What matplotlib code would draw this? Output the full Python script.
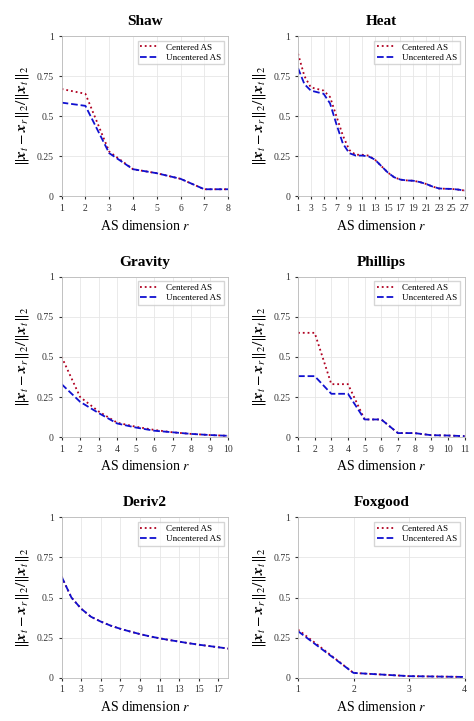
import numpy as np
import matplotlib.pyplot as plt

plt.rcParams['font.family'] = ['Liberation Serif', 'DejaVu Serif']
plt.rcParams['mathtext.fontset'] = 'stix'

titles = ["Shaw", "Heat", "Gravity", "Phillips", "Deriv2", "Foxgood"]

shaw_c = [0.67, 0.64, 0.28, 0.17, 0.145, 0.11, 0.045, 0.045]
shaw_u = [0.585, 0.565, 0.27, 0.17, 0.145, 0.11, 0.045, 0.045]

heat_c = [0.89, 0.75, 0.68, 0.67, 0.66, 0.62, 0.50, 0.38, 0.29, 0.26, 0.26, 0.255, 0.23,
          0.19, 0.15, 0.12, 0.105, 0.10, 0.098, 0.09, 0.078, 0.062, 0.05, 0.048, 0.047, 0.043, 0.037]
heat_u = [0.80, 0.70, 0.66, 0.65, 0.64, 0.58, 0.45, 0.33, 0.27, 0.255, 0.255, 0.25, 0.23,
          0.19, 0.15, 0.12, 0.105, 0.10, 0.098, 0.09, 0.078, 0.062, 0.05, 0.048, 0.047, 0.043, 0.037]

grav_c = [0.50, 0.25, 0.16, 0.09, 0.065, 0.045, 0.03, 0.02, 0.013, 0.008]
grav_u = [0.33, 0.22, 0.15, 0.085, 0.06, 0.04, 0.03, 0.02, 0.013, 0.008]

phil_c = [0.65, 0.65, 0.33, 0.33, 0.11, 0.11, 0.025, 0.025, 0.012, 0.01, 0.006]
phil_u = [0.38, 0.38, 0.27, 0.27, 0.11, 0.11, 0.025, 0.025, 0.012, 0.01, 0.006]

der_c = [0.63, 0.50, 0.43, 0.38, 0.35, 0.325, 0.305, 0.288, 0.272, 0.258, 0.246, 0.235,
         0.225, 0.215, 0.206, 0.198, 0.19, 0.182]
der_u = der_c

fox_c = [0.30, 0.03, 0.01, 0.005]
fox_u = [0.29, 0.03, 0.01, 0.005]

series = [(shaw_c, shaw_u), (heat_c, heat_u), (grav_c, grav_u),
          (phil_c, phil_u), (der_c, der_u), (fox_c, fox_u)]
xticks = [range(1, 9), range(1, 28, 2), range(1, 11), range(1, 12), range(1, 18, 2), range(1, 5)]

fig, axes = plt.subplots(3, 2, figsize=(4.74, 7.21), dpi=100)
for ax, title, (c, u), xt in zip(axes.flat, titles, series, xticks):
    r = np.arange(1, len(c) + 1)
    ax.plot(r, c, ':', color='#b00020', lw=1.3, label='Centered AS')
    ax.plot(r, u, '--', color='#1010d0', lw=1.3, label='Uncentered AS')
    ax.set_xlim(1, len(c))
    ax.set_ylim(0, 1)
    ax.set_xticks(list(xt))
    ax.set_yticks([0, 0.25, 0.5, 0.75, 1])
    ax.set_yticklabels(['0', '0.25', '0.5', '0.75', '1'])
    ax.tick_params(labelsize=7, colors='#333333', length=2)
    ax.grid(True, color='#e6e6e6', lw=0.6)
    for s in ax.spines.values():
        s.set_color('#bbbbbb')
        s.set_linewidth(0.6)
    ax.set_title(title, fontsize=11, fontweight='bold', pad=8)
    ax.set_xlabel('AS dimension $r$', fontsize=10)
    ax.set_ylabel(r'$\Vert \boldsymbol{x}_t - \boldsymbol{x}_r\Vert_2 / \Vert \boldsymbol{x}_t\Vert_2$', fontsize=11)
    ax.legend(loc='upper right', fontsize=6.5, frameon=True, fancybox=False,
              edgecolor='#cccccc', handlelength=2, borderpad=0.3, labelspacing=0.2)

fig.subplots_adjust(left=0.13, right=0.98, top=0.95, bottom=0.06, wspace=0.42, hspace=0.5)
fig.savefig('out.png')
